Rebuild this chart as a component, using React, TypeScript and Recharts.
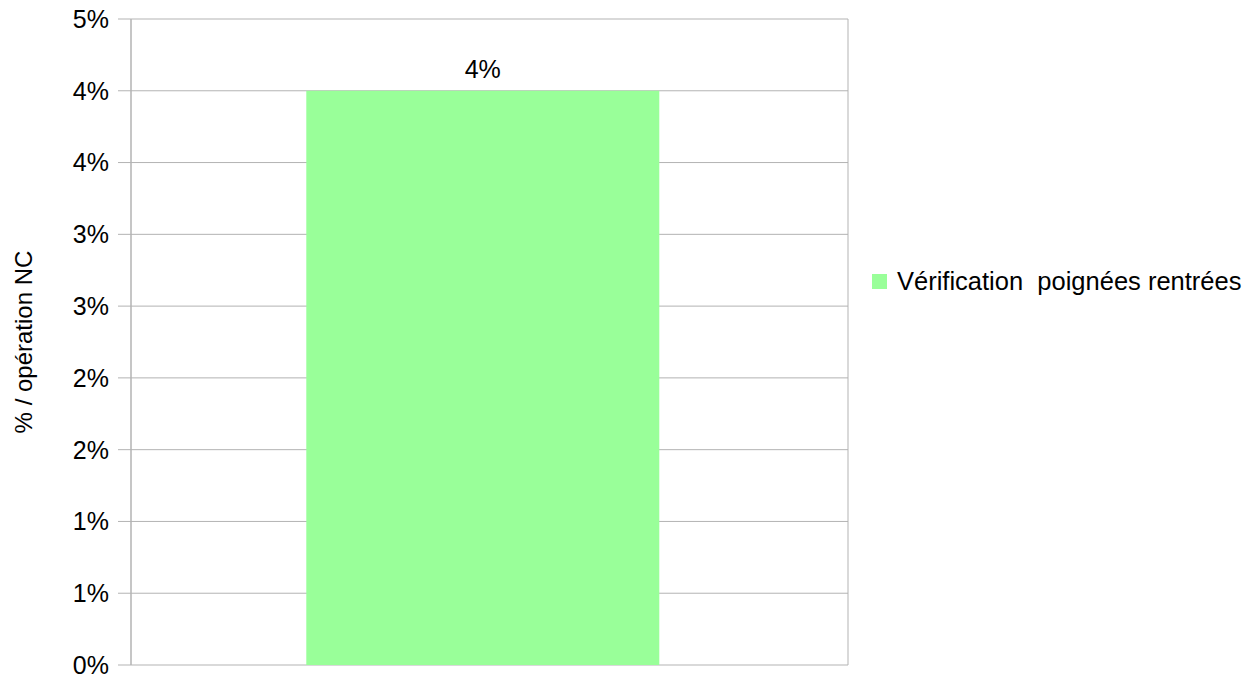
import { BarChart, Bar, XAxis, YAxis, CartesianGrid, Legend, LabelList } from 'recharts';

const categories = [''];
const seriesName = 'Vérification  poignées rentrées';
const seriesValues = [0.04];
const yTicks = [0, 0.005, 0.01, 0.015, 0.02, 0.025, 0.03, 0.035, 0.04, 0.045];
const edgeTicks = [0, 1];

const data = categories.map((name, i) => ({ name, value: seriesValues[i] }));

const GRID = '#b3b3b3';
const FONT = '"Liberation Sans", Arial, sans-serif';

// percent with no decimals, rounded half up like the spreadsheet does
const pct = (v: number) => `${Math.round(v * 100 + 1e-9)}%`;

const AxisTitle = ({ viewBox }: any) => {
  const x = viewBox.x + 32;
  const y = viewBox.y + viewBox.height / 2;
  return (
    <text
      x={x}
      y={y}
      transform={`rotate(-90, ${x}, ${y})`}
      textAnchor="middle"
      fontSize={24}
      fill="#000"
      fontFamily={FONT}
    >
      % / opération NC
    </text>
  );
};

const LegendBox = ({ payload }: any) => (
  <div style={{ fontFamily: FONT }}>
    {(payload || []).map((p: any) => (
      <div key={p.value} style={{ display: 'flex', alignItems: 'center', height: 26 }}>
        <span style={{ width: 15, height: 15, background: p.color, marginRight: 10, display: 'inline-block' }} />
        <span style={{ fontSize: 25.5, lineHeight: '26px', color: '#000', whiteSpace: 'pre' }}>{p.value}</span>
      </div>
    ))}
  </div>
);

const App = () => {
  return (
    <div style={{ position: 'absolute', left: 0, top: 0, width: 1249, height: 676, background: '#fff' }}>
      <BarChart
        width={1249}
        height={676}
        data={data}
        margin={{ top: 19, right: 401, bottom: 10, left: 0 }}
        barCategoryGap="24.9%"
      >
        <CartesianGrid stroke={GRID} xAxisId="edges" />
        <XAxis xAxisId="cat" dataKey="name" hide padding={{ left: 0, right: 13 }} />
        <XAxis
          xAxisId="edges"
          type="number"
          domain={[0, 1]}
          ticks={edgeTicks}
          axisLine={false}
          tickLine={{ stroke: GRID }}
          tickSize={11}
          tick={false}
          height={1}
        />
        <YAxis
          width={131}
          domain={[0, 0.045]}
          ticks={yTicks}
          tickFormatter={pct}
          axisLine={{ stroke: GRID }}
          tickLine={{ stroke: GRID }}
          tickSize={13}
          tickMargin={9}
          tick={{ fill: '#000', fontSize: 25, fontFamily: FONT }}
          interval={0}
          label={{ content: AxisTitle }}
        />
        <Legend
          layout="vertical"
          align="center"
          verticalAlign="middle"
          content={LegendBox}
          wrapperStyle={{ left: 872, top: 268, width: 'auto' }}
        />
        <Bar
          xAxisId="cat"
          dataKey="value"
          name={seriesName}
          fill="#99ff99"
          isAnimationActive={false}
        >
          <LabelList
            dataKey="value"
            position="top"
            offset={13}
            formatter={(v: any) => pct(Number(v))}
            style={{ fill: '#000', fontSize: 25, fontFamily: FONT }}
          />
        </Bar>
      </BarChart>
    </div>
  );
};

export default App;
